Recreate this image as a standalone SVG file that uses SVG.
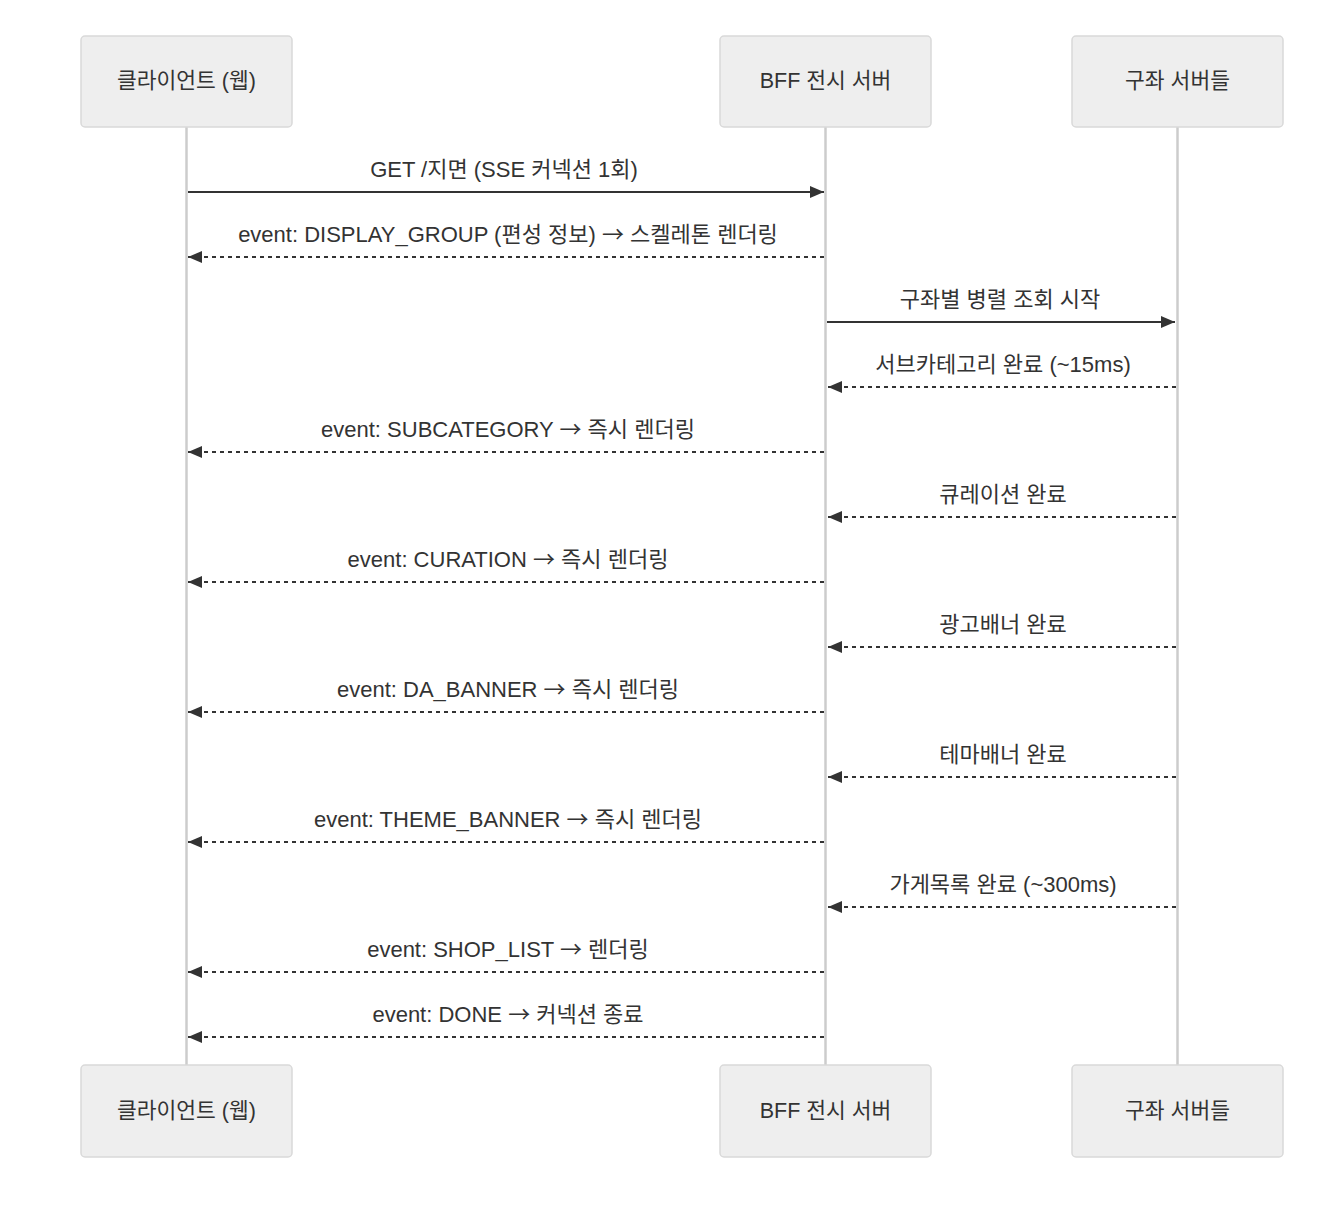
<svg xmlns="http://www.w3.org/2000/svg" width="1334" height="1206" viewBox="0 0 1334 1206">
<style>
.bg{fill:#ffffff}
.actor rect{fill:#eeeeee;stroke:#d9d9d9;stroke-width:1.5}
.actor text{font-family:"Liberation Sans","Noto Sans CJK KR",sans-serif;font-size:21.5px;fill:#333333;text-anchor:middle;dominant-baseline:central}
.life{stroke:#cccccc;stroke-width:2.5}
.msg{stroke:#333333;stroke-width:2;fill:none}
.dash{stroke-dasharray:4 4}
.lbl{font-family:"Liberation Sans","Noto Sans CJK KR",sans-serif;font-size:22px;fill:#333333;text-anchor:middle}
.ar{font-family:"Noto Sans CJK KR",sans-serif}
</style>
<defs>
<marker id="ah" viewBox="0 0 14 12" refX="14" refY="6" markerWidth="14" markerHeight="12" markerUnits="userSpaceOnUse" orient="auto">
<path d="M0,0 L14,6 L0,12 z" fill="#333333"/>
</marker>
</defs>
<rect class="bg" width="1334" height="1206"/>
<g id="lifelines">
<line class="life" x1="186.5" y1="127" x2="186.5" y2="1065"/>
<line class="life" x1="825.5" y1="127" x2="825.5" y2="1065"/>
<line class="life" x1="1177.5" y1="127" x2="1177.5" y2="1065"/>
</g>
<g id="actor-client-top" class="actor"><rect x="81" y="36" width="211" height="91" rx="4"/><text x="186.5" y="81">클라이언트 (웹)</text></g>
<g id="actor-bff-top" class="actor"><rect x="720" y="36" width="211" height="91" rx="4"/><text x="825.5" y="81">BFF 전시 서버</text></g>
<g id="actor-servers-top" class="actor"><rect x="1072" y="36" width="211" height="91" rx="4"/><text x="1177.5" y="81">구좌 서버들</text></g>
<g id="actor-client-bottom" class="actor"><rect x="81" y="1065" width="211" height="92" rx="4"/><text x="186.5" y="1110.5">클라이언트 (웹)</text></g>
<g id="actor-bff-bottom" class="actor"><rect x="720" y="1065" width="211" height="92" rx="4"/><text x="825.5" y="1110.5">BFF 전시 서버</text></g>
<g id="actor-servers-bottom" class="actor"><rect x="1072" y="1065" width="211" height="92" rx="4"/><text x="1177.5" y="1110.5">구좌 서버들</text></g>
<g id="connectors">
<line class="msg" x1="188" y1="192" x2="824" y2="192" marker-end="url(#ah)"/>
<text class="lbl" x="504" y="177">GET /지면 (SSE 커넥션 1회)</text>
<line class="msg dash" x1="824" y1="257" x2="188" y2="257" marker-end="url(#ah)"/>
<text class="lbl" x="508" y="242">event: DISPLAY_GROUP (편성 정보) <tspan class="ar">→</tspan> 스켈레톤 렌더링</text>
<line class="msg" x1="827" y1="322" x2="1175" y2="322" marker-end="url(#ah)"/>
<text class="lbl" x="1000" y="307">구좌별 병렬 조회 시작</text>
<line class="msg dash" x1="1176" y1="387" x2="828" y2="387" marker-end="url(#ah)"/>
<text class="lbl" x="1003" y="372">서브카테고리 완료 (~15ms)</text>
<line class="msg dash" x1="824" y1="452" x2="188" y2="452" marker-end="url(#ah)"/>
<text class="lbl" x="508" y="437">event: SUBCATEGORY <tspan class="ar">→</tspan> 즉시 렌더링</text>
<line class="msg dash" x1="1176" y1="517" x2="828" y2="517" marker-end="url(#ah)"/>
<text class="lbl" x="1003" y="502">큐레이션 완료</text>
<line class="msg dash" x1="824" y1="582" x2="188" y2="582" marker-end="url(#ah)"/>
<text class="lbl" x="508" y="567">event: CURATION <tspan class="ar">→</tspan> 즉시 렌더링</text>
<line class="msg dash" x1="1176" y1="647" x2="828" y2="647" marker-end="url(#ah)"/>
<text class="lbl" x="1003" y="632">광고배너 완료</text>
<line class="msg dash" x1="824" y1="712" x2="188" y2="712" marker-end="url(#ah)"/>
<text class="lbl" x="508" y="697">event: DA_BANNER <tspan class="ar">→</tspan> 즉시 렌더링</text>
<line class="msg dash" x1="1176" y1="777" x2="828" y2="777" marker-end="url(#ah)"/>
<text class="lbl" x="1003" y="762">테마배너 완료</text>
<line class="msg dash" x1="824" y1="842" x2="188" y2="842" marker-end="url(#ah)"/>
<text class="lbl" x="508" y="827">event: THEME_BANNER <tspan class="ar">→</tspan> 즉시 렌더링</text>
<line class="msg dash" x1="1176" y1="907" x2="828" y2="907" marker-end="url(#ah)"/>
<text class="lbl" x="1003" y="892">가게목록 완료 (~300ms)</text>
<line class="msg dash" x1="824" y1="972" x2="188" y2="972" marker-end="url(#ah)"/>
<text class="lbl" x="508" y="957">event: SHOP_LIST <tspan class="ar">→</tspan> 렌더링</text>
<line class="msg dash" x1="824" y1="1037" x2="188" y2="1037" marker-end="url(#ah)"/>
<text class="lbl" x="508" y="1022">event: DONE <tspan class="ar">→</tspan> 커넥션 종료</text>
</g>
</svg>
